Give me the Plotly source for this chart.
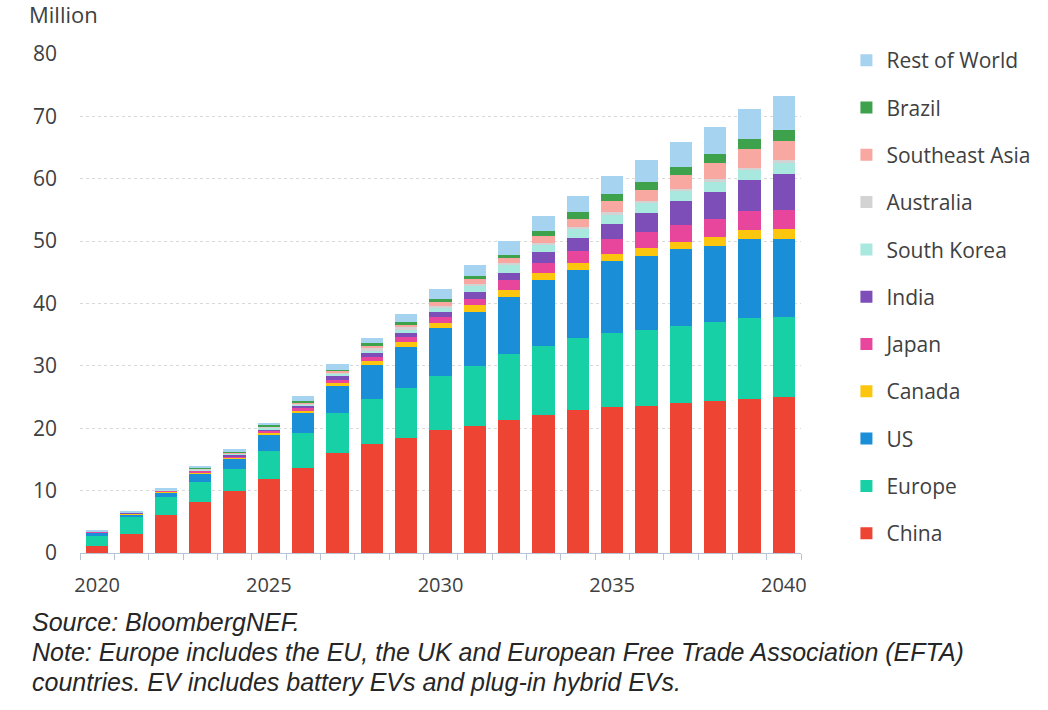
import plotly.graph_objects as go

years = [str(y) for y in range(2020, 2041)]
tick_text = [y if int(y) % 5 == 0 else "" for y in years]

china = [1.2, 3.0, 6.1, 8.2, 9.9, 11.9, 13.7, 16.0, 17.4, 18.5, 19.7, 20.4, 21.4, 22.2, 22.9, 23.4, 23.6, 24.0, 24.4, 24.7, 25.0]
europe = [1.6, 2.8, 2.8, 3.2, 3.5, 4.5, 5.5, 6.4, 7.3, 7.9, 8.7, 9.6, 10.5, 11.0, 11.6, 11.9, 12.2, 12.4, 12.6, 13.0, 12.9]
us = [0.5, 0.45, 0.8, 1.4, 1.7, 2.5, 3.3, 4.4, 5.5, 6.7, 7.7, 8.7, 9.2, 10.6, 10.9, 11.5, 11.8, 12.3, 12.2, 12.7, 12.5]
canada = [0.05, 0.05, 0.1, 0.15, 0.2, 0.4, 0.3, 0.5, 0.6, 0.8, 0.8, 1.0, 1.0, 1.1, 1.1, 1.2, 1.3, 1.2, 1.5, 1.4, 1.5]
japan = [0.05, 0.08, 0.15, 0.2, 0.25, 0.3, 0.4, 0.4, 0.7, 0.7, 0.9, 1.1, 1.6, 1.6, 1.9, 2.3, 2.5, 2.7, 2.8, 3.0, 3.1]
india = [0.02, 0.04, 0.05, 0.15, 0.2, 0.25, 0.4, 0.6, 0.5, 0.6, 0.8, 1.1, 1.2, 1.8, 2.1, 2.5, 3.1, 3.8, 4.3, 5.0, 5.8]
south_korea = [0.04, 0.06, 0.1, 0.15, 0.2, 0.25, 0.25, 0.4, 0.5, 0.6, 0.7, 0.9, 1.3, 1.2, 1.6, 1.5, 1.7, 1.6, 1.7, 1.6, 1.7]
australia = [0.01, 0.02, 0.05, 0.05, 0.05, 0.1, 0.1, 0.2, 0.3, 0.4, 0.3, 0.4, 0.3, 0.2, 0.2, 0.3, 0.3, 0.4, 0.4, 0.4, 0.5]
southeast_asia = [0.01, 0.02, 0.05, 0.05, 0.1, 0.1, 0.15, 0.3, 0.4, 0.4, 0.6, 0.7, 0.8, 1.1, 1.3, 1.9, 1.7, 2.2, 2.6, 2.9, 3.0]
brazil = [0.02, 0.03, 0.05, 0.1, 0.1, 0.15, 0.2, 0.2, 0.4, 0.5, 0.5, 0.5, 0.5, 0.9, 1.0, 1.0, 1.3, 1.3, 1.5, 1.6, 1.8]
rest_of_world = [0.05, 0.15, 0.25, 0.25, 0.4, 0.45, 0.8, 0.9, 0.8, 1.2, 1.6, 1.8, 2.2, 2.3, 2.7, 3.0, 3.5, 4.0, 4.3, 4.9, 5.5]

series = [
    ("China", china, "#EE4433"),
    ("Europe", europe, "#17D0A6"),
    ("US", us, "#1A8FD8"),
    ("Canada", canada, "#FCC60F"),
    ("Japan", japan, "#E8469C"),
    ("India", india, "#7D4DB8"),
    ("South Korea", south_korea, "#A8E8DF"),
    ("Australia", australia, "#D3D3D3"),
    ("Southeast Asia", southeast_asia, "#F8A7A1"),
    ("Brazil", brazil, "#3DA24B"),
    ("Rest of World", rest_of_world, "#A5D3F0"),
]

fig = go.Figure()
n = len(series)
for i, (name, vals, color) in enumerate(series):
    fig.add_trace(go.Bar(
        x=years, y=vals, name=name, marker=dict(color=color, line=dict(width=0)),
        legendgroup=name, legendrank=1000 + (n - i),
    ))

font_main = "Open Sans, Noto Sans, DejaVu Sans, sans-serif"
note_font = "Liberation Sans, Arial, sans-serif"

fig.update_layout(
    width=1048, height=710,
    barmode="stack", bargap=0.35,
    paper_bgcolor="white", plot_bgcolor="white",
    margin=dict(l=80, r=239, t=54, b=157),
    font=dict(family=font_main, size=18, color="#404040"),
    legend=dict(
        x=1.063, y=1.028, xanchor="left", yanchor="top",
        traceorder="grouped", tracegroupgap=17, maxheight=700,
        font=dict(family=font_main, size=21, color="#404040"),
        itemwidth=30,
    ),
    xaxis=dict(
        type="category", tickvals=years, ticktext=tick_text, tickangle=0,
        tickson="boundaries", ticks="outside", ticklen=6, tickcolor="#B8C4D6",
        showline=True, linecolor="#B8C4D6", linewidth=1,
        showgrid=False, tickfont=dict(size=20, color="#404040"),
        ticklabelstandoff=14, range=[-0.5, 20.5],
    ),
    yaxis=dict(
        range=[0, 80], dtick=10, showgrid=True, gridcolor="#D9D9D9", gridwidth=1,
        griddash="dot", zeroline=False, showline=False, ticks="",
        ticklabelstandoff=22, tickfont=dict(size=21, color="#404040"),
    ),
    annotations=[
        dict(text="Million", xref="paper", yref="paper", x=-0.073, y=1.08,
             xanchor="left", yanchor="middle", showarrow=False,
             font=dict(family=font_main, size=22, color="#404040")),
        dict(text="<i>Source: BloombergNEF.</i>", xref="paper", yref="paper",
             x=-0.069, y=-0.139, xanchor="left", yanchor="middle", showarrow=False,
             font=dict(family=note_font, size=25, color="#262626")),
        dict(text="<i>Note: Europe includes the EU, the UK and European Free Trade Association (EFTA)</i>",
             xref="paper", yref="paper", x=-0.069, y=-0.199, xanchor="left", yanchor="middle",
             showarrow=False, font=dict(family=note_font, size=25, color="#262626")),
        dict(text="<i>countries. EV includes battery EVs and plug-in hybrid EVs.</i>",
             xref="paper", yref="paper", x=-0.069, y=-0.259, xanchor="left", yanchor="middle",
             showarrow=False, font=dict(family=note_font, size=25, color="#262626")),
    ],
)

fig.write_html("out.html", config={"displayModeBar": False},
               post_script="document.body.style.margin='0';")
